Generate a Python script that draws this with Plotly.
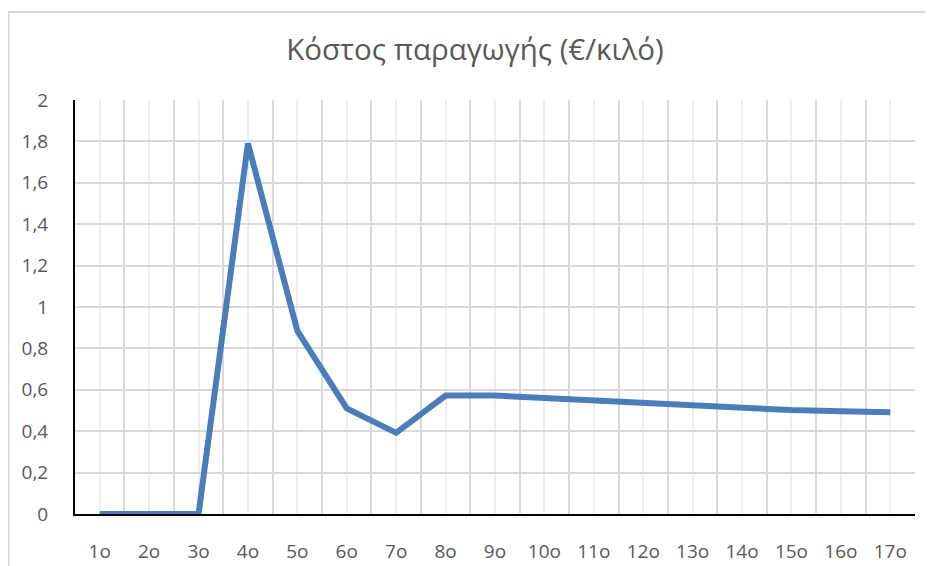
import plotly.graph_objects as go

categories = ["1ο", "2ο", "3ο", "4ο", "5ο", "6ο", "7ο", "8ο", "9ο", "10ο",
              "11ο", "12ο", "13ο", "14ο", "15ο", "16ο", "17ο"]
cost = [0, 0, 0, 1.79, 0.885, 0.51, 0.392, 0.572, 0.572, 0.56,
        0.547, 0.538, 0.525, 0.512, 0.502, 0.496, 0.492]
y_ticks = [0, 0.2, 0.4, 0.6, 0.8, 1, 1.2, 1.4, 1.6, 1.8, 2]

xpos = list(range(1, len(categories) + 1))

fig = go.Figure()
fig.add_trace(go.Scatter(
    x=xpos, y=cost, mode="lines",
    line=dict(color="#4A7EBB", width=6, shape="linear"),
    hoverinfo="skip", showlegend=False,
))

font_family = "Open Sans, Liberation Sans, sans-serif"
W, H = 925, 558

fig.update_layout(
    width=W, height=H,
    margin=dict(l=67, r=18, t=92, b=52, autoexpand=False),
    paper_bgcolor="white", plot_bgcolor="white",
    separators=",.",
    title=dict(text="Κόστος παραγωγής (€/κιλό)", x=467 / W, xanchor="center",
               y=1 - 42 / H, yanchor="middle",
               font=dict(family=font_family, size=29.5, color="#595959")),
    font=dict(family=font_family, color="#595959"),
    xaxis=dict(
        range=[0.5, len(categories) + 0.5],
        tickmode="array", tickvals=xpos, ticktext=categories,
        showgrid=True, gridcolor="#EEEEEE", gridwidth=1.5,
        minor=dict(tick0=0.5, dtick=1, showgrid=True, gridcolor="#D9D9D9", gridwidth=2),
        showline=True, linecolor="black", linewidth=2,
        ticks="", ticklabelstandoff=19, automargin=False,
        tickfont=dict(size=19, color="#595959"),
        zeroline=False, fixedrange=True,
    ),
    yaxis=dict(
        range=[0, 2], tickmode="array", tickvals=y_ticks,
        showgrid=True, gridcolor="#D9D9D9", gridwidth=2,
        showline=True, linecolor="black", linewidth=2,
        ticks="", ticklabelstandoff=21, automargin=False,
        tickfont=dict(size=19, color="#595959"),
        zeroline=False, fixedrange=True,
    ),
    shapes=[dict(type="rect", xref="paper", yref="paper",
                 x0=(0.5 - 67) / 840, x1=1.2, y0=-0.3, y1=1 + 88 / 414,
                 line=dict(color="#D9D9D9", width=2), layer="below")],
)

fig.write_html("out.html")
